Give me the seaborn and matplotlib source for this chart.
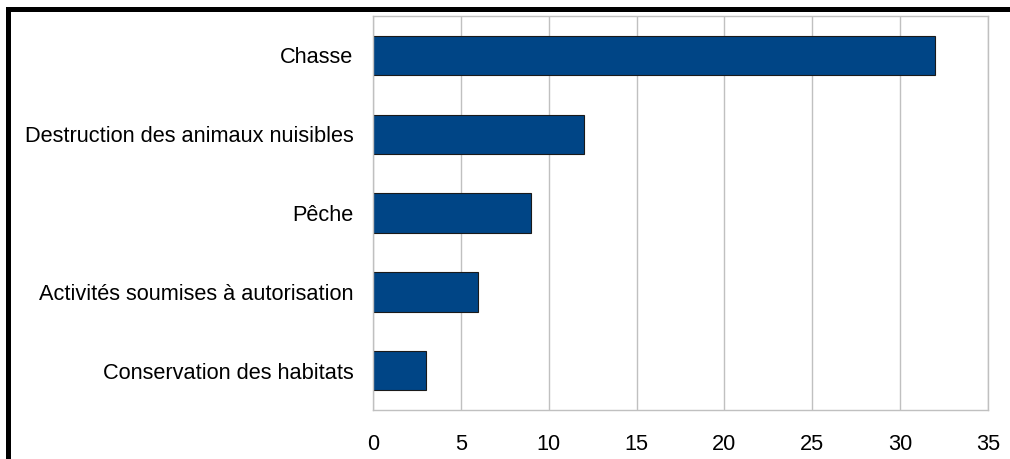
import matplotlib
matplotlib.use('agg')
import matplotlib.pyplot as plt
from matplotlib.patches import Rectangle
import seaborn as sns
import pandas as pd

# data
categories = ["Chasse", "Destruction des animaux nuisibles", "Pêche",
              "Activités soumises à autorisation", "Conservation des habitats"]
values = [32, 12, 9, 6, 3]
x_ticks = [0, 5, 10, 15, 20, 25, 30, 35]

df = pd.DataFrame({"categorie": categories, "valeur": values})

sns.set_style("white")
plt.rcParams['font.family'] = ['Liberation Sans', 'DejaVu Sans']

grey = '#c0c0c0'
fig = plt.figure(figsize=(10.1, 4.59), dpi=100)
ax = fig.add_axes([373 / 1010, 1 - 410 / 459, (988 - 373) / 1010, (410 - 16) / 459])

sns.barplot(data=df, y="categorie", x="valeur", orient="h", color="#004586",
            saturation=1, width=0.5, edgecolor="#1a1a1a", linewidth=0.8, ax=ax)

ax.set_xlim(0, 35)
ax.set_xticks(x_ticks)
ax.set_xlabel("")
ax.set_ylabel("")
ax.xaxis.grid(True, color=grey, linewidth=1)
ax.set_axisbelow(True)
for s in ax.spines.values():
    s.set_color(grey)
    s.set_linewidth(1)
ax.tick_params(axis='x', length=7.5, color=grey, width=1, pad=10, labelsize=15.7, labelcolor='black')
ax.tick_params(axis='y', length=8, color=grey, width=1, pad=6, labelsize=15.7, labelcolor='black')

# black frame at top and left of the picture
fig.add_artist(Rectangle((6 / 1010, 1 - 12 / 459), 1, 5 / 459, transform=fig.transFigure,
                         facecolor='black', edgecolor='none'))
fig.add_artist(Rectangle((6 / 1010, -0.01), 5 / 1010, 1 - 7 / 459 + 0.01, transform=fig.transFigure,
                         facecolor='black', edgecolor='none'))

fig.savefig("out.png", dpi=100)
